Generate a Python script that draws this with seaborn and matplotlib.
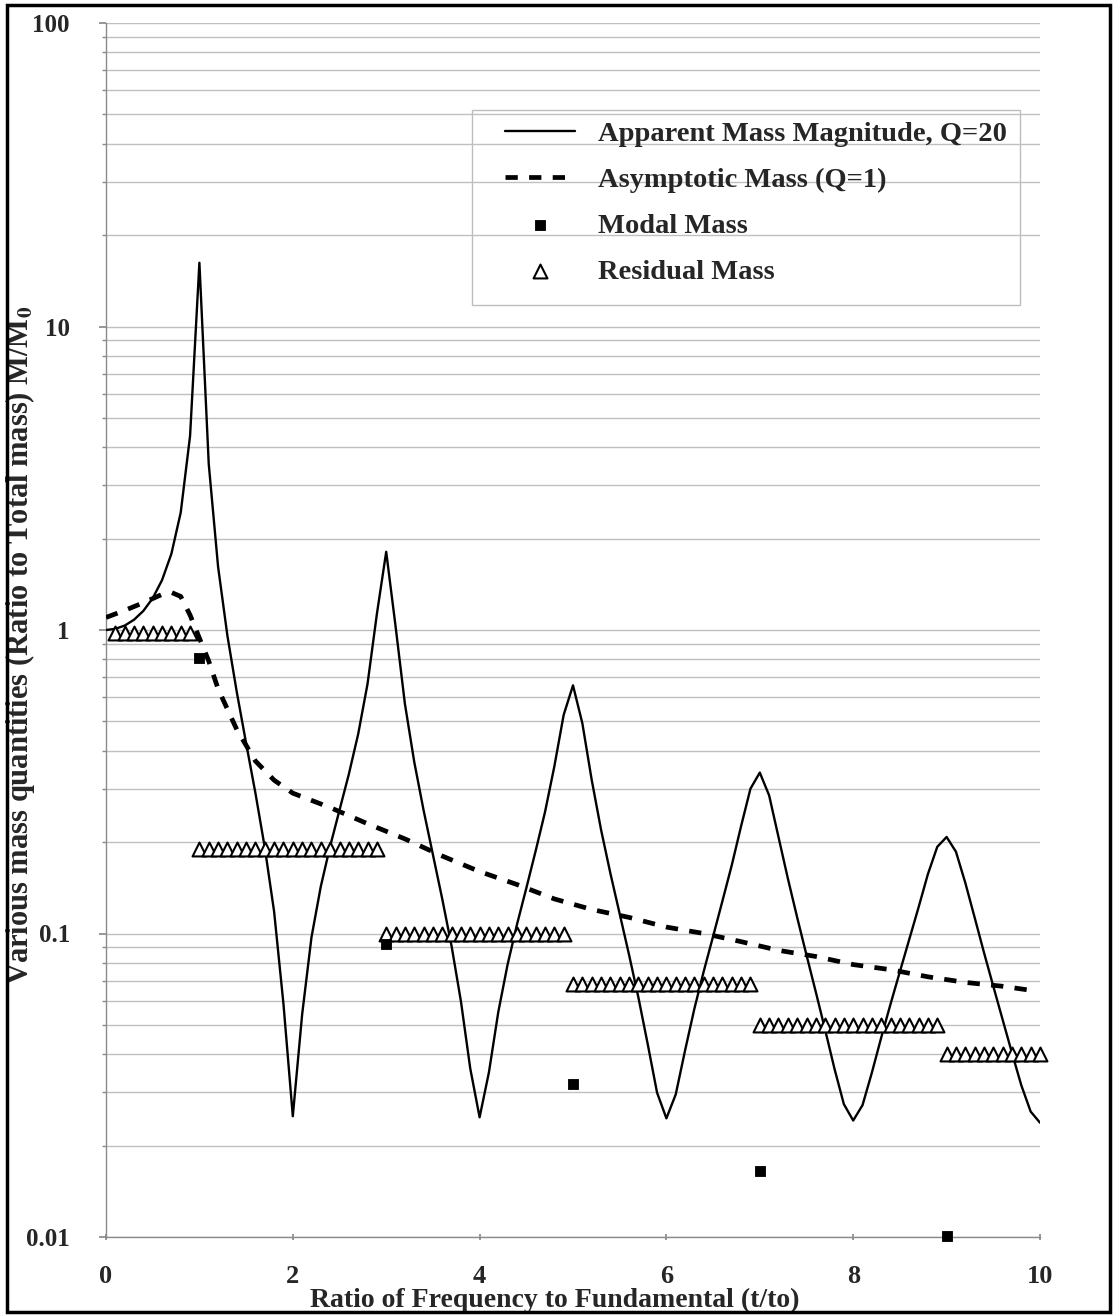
import matplotlib
matplotlib.use("Agg")
import matplotlib.pyplot as plt
import seaborn as sns
import pandas as pd
import numpy as np
from matplotlib.patches import Rectangle
from matplotlib.ticker import LogLocator, FixedLocator, FixedFormatter, NullFormatter

# --- DATA ---
freq_ratio = [0.0, 0.1, 0.2, 0.3, 0.4, 0.5, 0.6, 0.7, 0.8, 0.9,
              1.0, 1.1, 1.2, 1.3, 1.4, 1.5, 1.6, 1.7, 1.8, 1.9,
              2.0, 2.1, 2.2, 2.3, 2.4, 2.5, 2.6, 2.7, 2.8, 2.9,
              3.0, 3.1, 3.2, 3.3, 3.4, 3.5, 3.6, 3.7, 3.8, 3.9,
              4.0, 4.1, 4.2, 4.3, 4.4, 4.5, 4.6, 4.7, 4.8, 4.9,
              5.0, 5.1, 5.2, 5.3, 5.4, 5.5, 5.6, 5.7, 5.8, 5.9,
              6.0, 6.1, 6.2, 6.3, 6.4, 6.5, 6.6, 6.7, 6.8, 6.9,
              7.0, 7.1, 7.2, 7.3, 7.4, 7.5, 7.6, 7.7, 7.8, 7.9,
              8.0, 8.1, 8.2, 8.3, 8.4, 8.5, 8.6, 8.7, 8.8, 8.9,
              9.0, 9.1, 9.2, 9.3, 9.4, 9.5, 9.6, 9.7, 9.8, 9.9,
              10.0]
apparent_mass = [1.000, 1.009, 1.034, 1.081, 1.156, 1.273, 1.460, 1.782, 2.438, 4.359,
                 16.22, 3.525, 1.616, 0.957, 0.625, 0.424, 0.290, 0.192, 0.118, 0.0586,
                 0.0250, 0.0541, 0.0972, 0.143, 0.194, 0.255, 0.335, 0.454, 0.664, 1.128,
                 1.810, 1.030, 0.572, 0.368, 0.255, 0.182, 0.130, 0.0909, 0.0598, 0.0359,
                 0.0248, 0.0349, 0.0551, 0.0791, 0.107, 0.141, 0.187, 0.251, 0.355, 0.525,
                 0.657, 0.493, 0.321, 0.220, 0.158, 0.116, 0.0851, 0.0616, 0.0432, 0.0299,
                 0.0246, 0.0295, 0.0412, 0.0566, 0.0751, 0.0979, 0.128, 0.168, 0.226, 0.300,
                 0.339, 0.285, 0.208, 0.152, 0.113, 0.0849, 0.0641, 0.0481, 0.0358, 0.0274,
                 0.0242, 0.0272, 0.0348, 0.0454, 0.0586, 0.0749, 0.0956, 0.122, 0.157, 0.193,
                 0.208, 0.186, 0.147, 0.113, 0.0866, 0.0670, 0.0520, 0.0404, 0.0316, 0.0259,
                 0.0238]

asym_x = [0.0, 0.2, 0.4, 0.6, 0.7, 0.8, 0.9, 1.0, 1.1, 1.2, 1.4, 1.6, 1.8, 2.0,
          2.4, 2.8, 3.2, 3.6, 4.0, 4.4, 4.8, 5.2, 5.6, 6.0, 6.4, 6.8, 7.2, 7.6,
          8.0, 8.4, 8.8, 9.2, 9.6, 9.9]
asym_mass = [1.10, 1.16, 1.23, 1.31, 1.33, 1.29, 1.12, 0.94, 0.79, 0.64, 0.47, 0.37, 0.32, 0.29,
             0.26, 0.23, 0.205, 0.18, 0.16, 0.145, 0.13, 0.12, 0.113, 0.105, 0.10, 0.094, 0.088, 0.084,
             0.079, 0.076, 0.072, 0.069, 0.067, 0.065]

modal_x = [1, 3, 5, 7, 9]
modal_mass = [0.81, 0.092, 0.032, 0.0165, 0.0101]

# residual mass = flat runs of triangles (start, end, level)
res_start = [0.1, 1.0, 3.0, 5.0, 7.0, 9.0]
res_end = [0.9, 2.9, 4.9, 6.9, 8.9, 10.0]
res_level = [0.98, 0.19, 0.10, 0.068, 0.050, 0.040]

y_ticks = [0.01, 0.1, 1, 10, 100]
y_tick_labels = ["0.01", "0.1", "1", "10", "100"]
x_ticks = [0, 2, 4, 6, 8, 10]

# --- CONFIG ---
sns.set_theme(style="white")
plt.rcParams['font.family'] = ['Liberation Serif', 'DejaVu Serif']
plt.rcParams['font.weight'] = 'bold'
plt.rcParams['mathtext.fontset'] = 'stix'

W, H = 1117, 1315
fig = plt.figure(figsize=(W / 100, H / 100), dpi=100)
ax = fig.add_axes([106 / W, 78 / H, 934 / W, 1214 / H])
ax.set_yscale('log')

rx, ry = [], []
for a, b, lev in zip(res_start, res_end, res_level):
    pts = np.round(np.arange(a, b + 0.001, 0.1), 1)
    rx += list(pts); ry += [lev] * len(pts)

sns.lineplot(x=freq_ratio, y=apparent_mass, ax=ax, color='black', lw=1.7,
             sort=False, estimator=None, label='Apparent Mass Magnitude, Q=20', zorder=3)
sns.lineplot(x=asym_x, y=asym_mass, ax=ax, color='black', lw=3.4,
             linestyle=(0, (2.6, 2.4)), sort=False, estimator=None,
             label='Asymptotic Mass (Q=1)', zorder=3)
sns.scatterplot(x=modal_x, y=modal_mass, ax=ax, marker='s', s=60, color='black',
                edgecolor='black', label='Modal Mass', zorder=5, clip_on=False)
sns.scatterplot(x=rx, y=ry, ax=ax, marker='^', s=100, color='white', edgecolor='black',
                linewidth=1.5, label='Residual Mass', zorder=4, clip_on=False)

ax.set_xlim(0, 10)
ax.set_ylim(0.01, 100)

ax.yaxis.set_major_locator(FixedLocator(y_ticks))
ax.yaxis.set_major_formatter(FixedFormatter(y_tick_labels))
ax.yaxis.set_minor_locator(LogLocator(base=10, subs=range(2, 10)))
ax.yaxis.set_minor_formatter(NullFormatter())
ax.set_xticks(x_ticks)
ax.set_xticklabels([str(t) for t in x_ticks])

ax.yaxis.grid(True, which='both', color='#c0c0c0', lw=1.0)
ax.xaxis.grid(False)
for s in ['top', 'right']:
    ax.spines[s].set_visible(False)
for s in ['left', 'bottom']:
    ax.spines[s].set_color('#8a8a8a'); ax.spines[s].set_linewidth(1.0)

ax.tick_params(axis='y', which='major', left=True, length=5, color='#8a8a8a', labelsize=18, pad=21)
ax.tick_params(axis='y', which='minor', left=True, length=3, color='#8a8a8a')
ax.tick_params(axis='x', bottom=True, length=4, direction='inout', color='#8a8a8a', labelsize=19, pad=18)

ax.set_xlabel("Ratio of Frequency to Fundamental (t/to)", fontsize=20, fontweight='bold')
ax.set_ylabel(r"Various mass quantities (Ratio to Total mass) M/M$_\mathbf{0}$", fontsize=22, fontweight='bold')
ax.xaxis.set_label_coords(0.48, -0.0415)
ax.yaxis.set_label_coords((37 - 106) / 934, 0.4877)

h, l = ax.get_legend_handles_labels()
leg = ax.legend(h, l, loc='upper left', bbox_to_anchor=((505 - 106) / 934, (1237 - 121) / 1214),
                fontsize=20.5, frameon=False, handlelength=2.45, handletextpad=0.8,
                labelspacing=0.70, borderpad=0, borderaxespad=0)

# legend box drawn separately so the padding can match
fig.patches.append(Rectangle((472 / W, 1 - 305 / H), 548 / W, 195 / H, transform=fig.transFigure,
                             fill=True, facecolor='white', edgecolor='#bdbdbd', lw=1.0, zorder=0.5))
ax.set_zorder(1); ax.patch.set_alpha(0)

# black frame around the whole picture
fig.patches.append(Rectangle((7 / W, 3 / H), 1103 / W, 1307 / H, transform=fig.transFigure,
                             fill=False, edgecolor='black', lw=2.5))

fig.savefig("out.png", dpi=100)
